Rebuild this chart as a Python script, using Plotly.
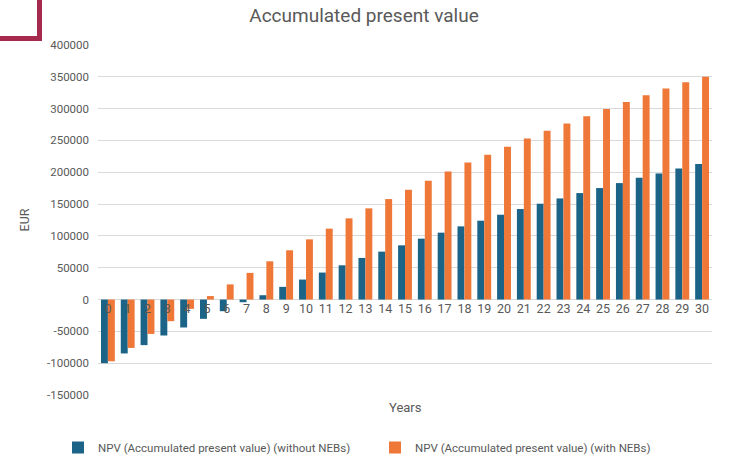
import plotly.graph_objects as go

years = list(range(0, 31))
npv_without = [-100000, -84700, -71600, -56500, -43900, -30300, -18300, -4200, 6800, 19900,
               31400, 42400, 53800, 65400, 75300, 85200, 95700, 105100, 115000, 123900,
               133300, 142200, 150600, 158900, 167300, 175200, 183000, 191400, 198100, 206000, 212900]
npv_with = [-97000, -76000, -54000, -34000, -14600, 5500, 23800, 41900, 60100, 77400,
            94600, 111400, 127600, 143300, 157900, 172500, 186700, 201300, 215400, 227400,
            240000, 253000, 265100, 276600, 288100, 299600, 310600, 321100, 331500, 341500, 350300]
name_without = "NPV (Accumulated present value) (without NEBs)"
name_with = "NPV (Accumulated present value) (with NEBs)"
y_ticks = [-150000, -100000, -50000, 0, 50000, 100000, 150000, 200000, 250000, 300000, 350000, 400000]

BLUE = "#1b6487"
ORANGE = "#ef7737"
GRAY = "#595959"
MAROON = "#a52a4e"

fig = go.Figure()
fig.add_trace(go.Bar(x=years, y=npv_without, name=name_without, marker_color=BLUE,
                     marker_line_width=0))
fig.add_trace(go.Bar(x=years, y=npv_with, name=name_with, marker_color=ORANGE,
                     marker_line_width=0))

ymin, ymax = -150000, 400000
zero_pos = (0 - ymin) / (ymax - ymin)

L, R, T, B = 98, 19, 45, 66
PW, PH = 731 - L - R, 461 - T - B


def px(x):
    return (x - L) / PW


def py(y):
    return (461 - B - y) / PH


fig.update_layout(
    width=731, height=461,
    margin=dict(l=L, r=R, t=T, b=B, autoexpand=False),
    paper_bgcolor="white", plot_bgcolor="white",
    font=dict(family="Roboto, Open Sans, sans-serif", color=GRAY, size=12),
    title=dict(text="Accumulated present value", xref="paper", x=px(364), xanchor="center",
               yref="container", y=1 - 15 / 461, yanchor="middle",
               font=dict(size=19, color=GRAY)),
    barmode="group", bargap=0.3, bargroupgap=0,
    showlegend=True,
    legend=dict(orientation="h", x=px(58), xanchor="left", y=py(433), yanchor="top",
                font=dict(size=11.5, color=GRAY), entrywidth=272, entrywidthmode="pixels",
                itemwidth=30),
    xaxis=dict(range=[-0.5, 30.5], tickmode="array", tickvals=years,
               ticktext=[str(v) for v in years], anchor="free", position=zero_pos,
               showgrid=False, showline=False, zeroline=False, ticks="",
               tickfont=dict(size=12.5, color=GRAY)),
    yaxis=dict(range=[ymin, ymax], tickmode="array", tickvals=y_ticks,
               ticktext=[str(v) for v in y_ticks], showgrid=True, gridcolor="#d9d9d9",
               gridwidth=1, zeroline=True, zerolinecolor="#d9d9d9", zerolinewidth=1,
               showline=False, ticks="", tickfont=dict(size=11.5, color=GRAY),
               ticklabelstandoff=8,
               title=dict(text="EUR", font=dict(size=12.5, color=GRAY), standoff=14)),
    annotations=[dict(text="Years", xref="paper", yref="paper", x=px(405), y=py(407),
                      xanchor="center", yanchor="middle", showarrow=False,
                      font=dict(size=13, color=GRAY))],
    shapes=[
        dict(type="line", xref="paper", yref="paper", x0=px(39.5), x1=px(39.5),
             y0=py(-2), y1=py(40.5), line=dict(color=MAROON, width=5)),
        dict(type="line", xref="paper", yref="paper", x0=px(-2), x1=px(42),
             y0=py(38.5), y1=py(38.5), line=dict(color=MAROON, width=5)),
    ],
)

fig.write_html("out.html", config={"displayModeBar": False},
               post_script="document.body.style.margin='0';document.body.style.overflow='hidden';")
